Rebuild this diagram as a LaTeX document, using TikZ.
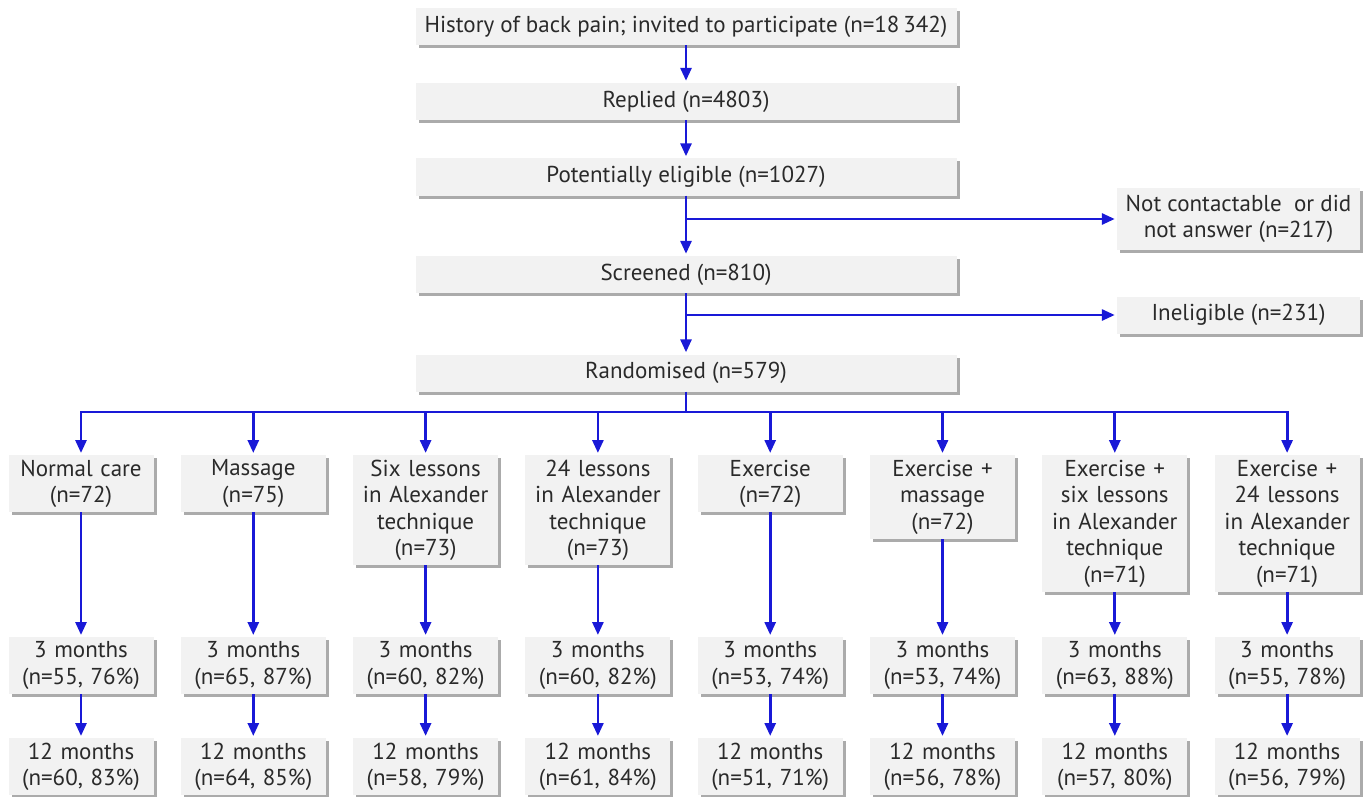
\documentclass[tikz,border=0pt]{standalone}
\usepackage{fontspec}
\setmainfont{PT Sans}
\usetikzlibrary{arrows.meta,shadows}
\definecolor{boxfill}{HTML}{F2F2F2}
\definecolor{shad}{HTML}{ABABAB}
\definecolor{txt}{HTML}{2A2A2A}
\definecolor{arr}{RGB}{25,25,215}
\begin{document}
\begin{tikzpicture}[x=1pt,y=-1pt,
  bx/.style={fill=boxfill, text=txt, inner sep=0pt, align=center,
     font=\fontsize{23}{26.5}\selectfont,
     drop shadow={shadow xshift=3pt,shadow yshift=-3pt,fill=shad,opacity=1}},
  mainbox/.style={bx, minimum width=541pt, minimum height=37pt},
  sidebox/.style={bx, minimum width=243pt},
  colbox/.style={bx, text width=145pt, anchor=north},
  ar/.style={draw=arr, line width=2.8pt, -{Triangle[width=11pt,length=13pt]}, shorten >=2pt},
  ln/.style={draw=arr, line width=2.8pt}]
\useasboundingbox (0,0) rectangle (1368,797);

\node[mainbox] (top)  at (686,26.5)  {History of back pain; invited to participate (n=18\,342)};
\node[mainbox] (rep)  at (686,101.5) {Replied (n=4803)};
\node[mainbox] (elig) at (686,177)   {Potentially eligible (n=1027)};
\node[mainbox] (scr)  at (686,274.5) {Screened (n=810)};
\node[mainbox] (rand) at (686,373)   {Randomised (n=579)};
\node[sidebox, minimum height=62pt] (nc) at (1238.5,219) {Not contactable\ \ or did\\not answer (n=217)};
\node[sidebox, minimum height=37pt] (inel) at (1238.5,315) {Ineligible (n=231)};

\draw[ar] (top) -- (rep);
\draw[ar] (rep) -- (elig);
\draw[ar] (elig) -- (scr);
\draw[ar] (scr) -- (rand);
\draw[ar] (elig.south |- nc.west) -- (nc.west);
\draw[ar] (scr.south |- inel.west) -- (inel.west);

\coordinate (bar) at (686,412);
\draw[ln] (rand.south) -- (bar);

\foreach \i/\t/\h/\a/\b/\c/\d in {
  1/{Normal care\\(n=72)}/57/55/76/60/83,
  2/{Massage\\(n=75)}/57/65/87/64/85,
  3/{Six lessons\\in Alexander\\technique\\(n=73)}/110/60/82/58/79,
  4/{24 lessons\\in Alexander\\technique\\(n=73)}/110/60/82/61/84,
  5/{Exercise\\(n=72)}/57/53/74/51/71,
  6/{Exercise +\\massage\\(n=72)}/84/53/74/56/78,
  7/{Exercise +\\six lessons\\in Alexander\\technique\\(n=71)}/137/63/88/57/80,
  8/{Exercise +\\24 lessons\\in Alexander\\technique\\(n=71)}/137/55/78/56/79}{
  \pgfmathsetmacro\cx{81+172.3*(\i-1)}
  \node[colbox, minimum height=\h pt] (g\i) at (\cx,455) {\t};
  \node[colbox, minimum height=57pt] (t\i) at (\cx,637) {3 months\\(n=\a, \b\%)};
  \node[colbox, minimum height=57pt] (u\i) at (\cx,738) {12 months\\(n=\c, \d\%)};
  \draw[ar] (g\i.north |- bar) -- (g\i.north);
  \draw[ar] (g\i) -- (t\i);
  \draw[ar] (t\i) -- (u\i);
}
\draw[ln, line cap=rect] (g1.north |- bar) -- (g8.north |- bar);
\end{tikzpicture}
\end{document}
